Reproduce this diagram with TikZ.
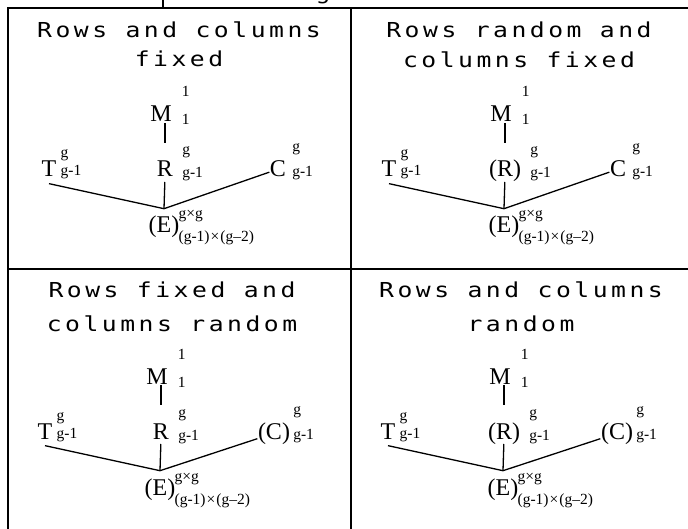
\documentclass[tikz,border=0pt]{standalone}
\usepackage{fontspec}
\newfontfamily\tms{Liberation Serif}
\newfontfamily\ttl[FakeStretch=1.2,LetterSpace=17]{DejaVu Sans Mono}
% sup over sub: {sup}{sub}{raise}{lower}
\newcommand{\ud}[4]{\rlap{\raisebox{#3}{#1}}\raisebox{#4}{#2}}

\begin{document}
\begin{tikzpicture}[x=1pt, y=-1pt, line width=1.3pt,
  title/.style={anchor=base, inner sep=0pt, font=\ttl\fontsize{20.6}{20.6}\selectfont},
  sym/.style={anchor=base, inner sep=0pt, font=\tms\fontsize{24}{24}\selectfont},
  scr/.style={anchor=base west, inner sep=0pt, font=\tms\fontsize{15.5}{15.5}\selectfont}]
  \useasboundingbox (0,0) rectangle (688,529);
  \clip (0,0) rectangle (688,529);
  % grid
  \draw (8,529) -- (8,8) -- (688,8);
  \draw (351,8) -- (351,529);
  \draw (8,269) -- (688,269);
  % cut off above
  \draw (163,0) -- (163,8);
  \node[title] (cut) at (323,0) {g};
  \foreach \i/\dx/\dy/\tx/\tya/\tyb/\ttA/\ttB/\rl/\cl/\ck in {
      1/0/0/179/38/67/{Rows and columns}/{fixed}/R/C/5pt,
      2/340/0/519/38/68/{Rows random and}/{columns fixed}/{(R)}/C/5pt,
      3/-4/262/172/298/331/{Rows fixed and}/{columns random}/R/{(C)}/2pt,
      4/339/262/521/298/331/{Rows and columns}/{random}/{(R)}/{(C)}/2pt} {
    \node[title] (ta\i) at (\tx,\tya) {\ttA};
    \node[title] (tb\i) at (\tx,\tyb) {\ttB};
    \begin{scope}[shift={(\dx,\dy)}]
      \node[sym] (m\i) at (161,122) {M};
      \node[sym] (t\i) at (49,177) {T};
      \node[sym] (r\i) at (165,177) {\rl};
      \node[sym] (c\i) at (278,177) {\cl};
      \node[sym] (e\i) at (164,233) {(E)};
      \node[scr] (ms\i) at ([xshift=9pt]m\i.base east) {\ud{1}{1}{25pt}{-3pt}};
      \node[scr] (ts\i) at ([xshift=3pt]t\i.base east) {\ud{g}{g-1}{19pt}{1pt}};
      \node[scr] (rs\i) at ([xshift=8pt]r\i.base east) {\ud{g}{g-1}{22pt}{-1pt}};
      \node[scr] (cs\i) at ([xshift=\ck]c\i.base east) {\ud{g}{g-1}{25pt}{0pt}};
      \node[scr] (es\i) at ([xshift=-2pt]e\i.base east)
        {\ud{g×g}{(g-1)\kern1pt×\kern1pt(g–2)}{14pt}{-9pt}};
      \coordinate (j\i) at ([yshift=7pt]e\i.north);
      \draw[shorten <=1pt, shorten >=34pt] (m\i.base -| r\i.base) -- (r\i.base);
      \draw[shorten <=5pt] (r\i.base) -- (j\i);
      \draw (j\i) -- ([yshift=-6pt]t\i.south);
      \draw (j\i) -- (c\i);
    \end{scope}
  }
\end{tikzpicture}
\end{document}
